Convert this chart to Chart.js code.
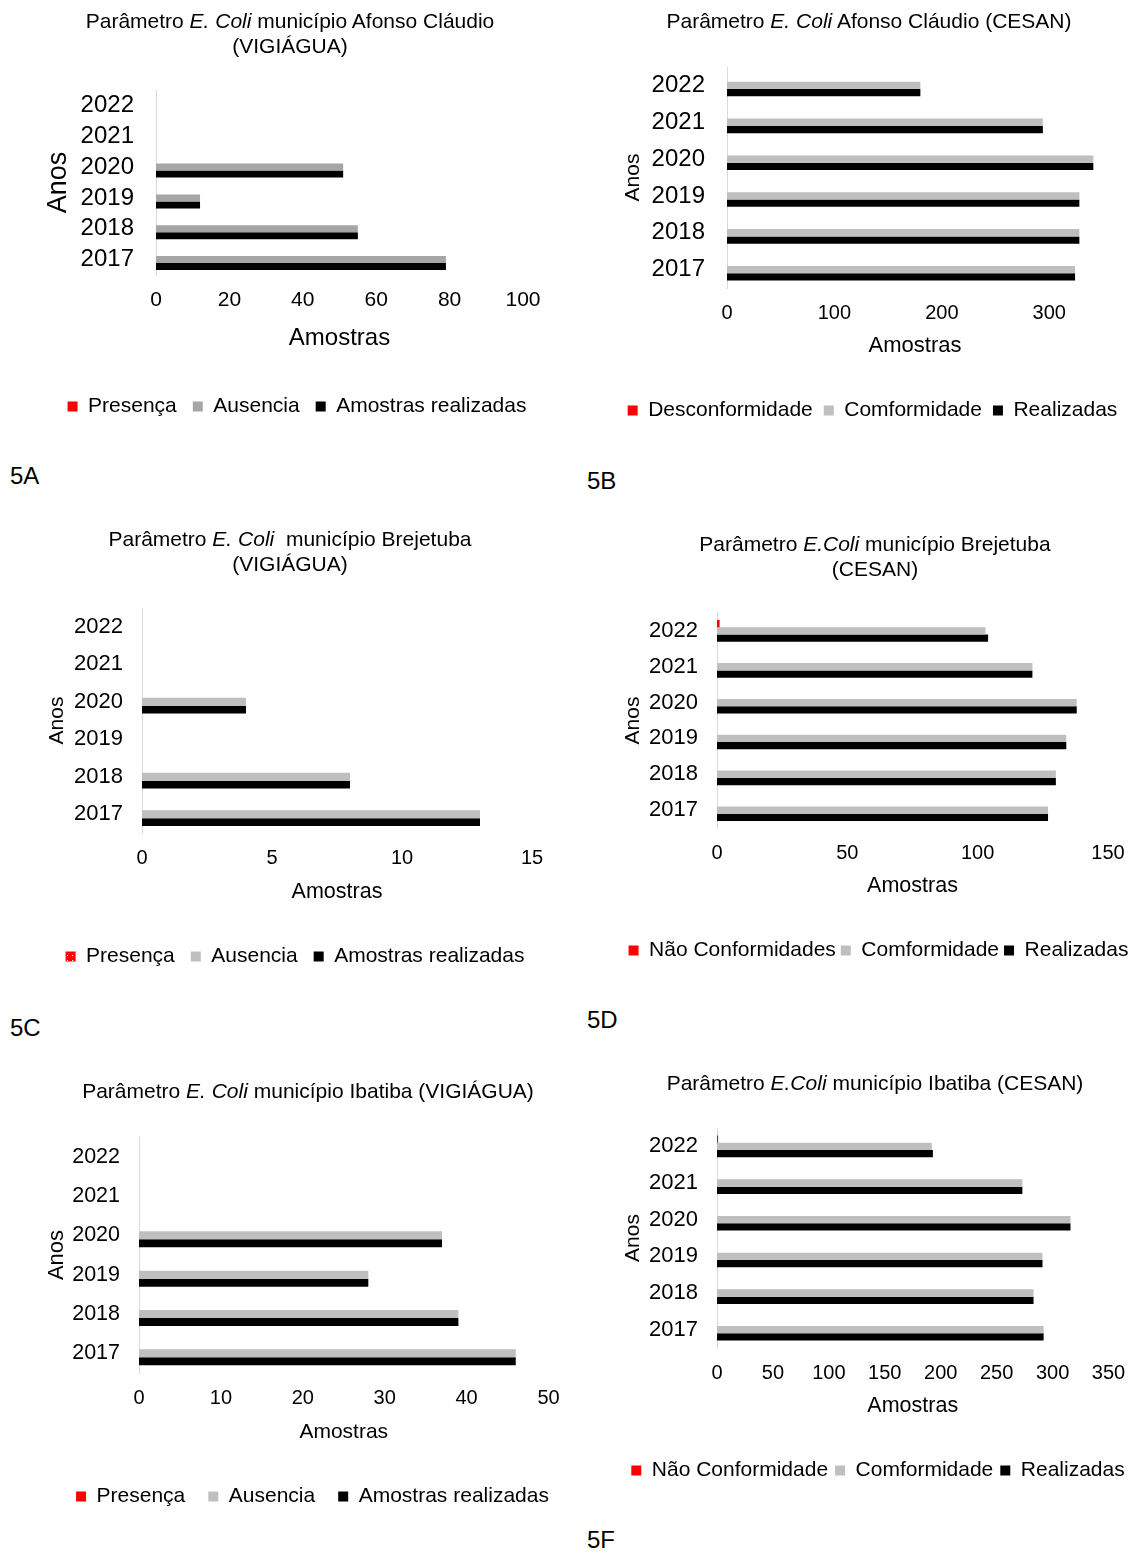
<!DOCTYPE html>
<html>
<head>
<meta charset="utf-8">
<script src="https://cdn.jsdelivr.net/npm/chart.js"></script>
<style>
html, body { margin: 0; padding: 0; background: #fff; overflow: hidden; }
body { width: 1140px; height: 1555px; position: relative; font-family: "Liberation Sans", Arial, sans-serif; color: #000; }
.titulo { position: absolute; width: 600px; text-align: center; font-size: 21px; line-height: 25px; white-space: pre; z-index: 2; }
.rotulo { position: absolute; font-size: 24px; line-height: 28px; }
canvas { position: absolute; z-index: 1; }
</style>
</head>
<body>

<div class="titulo" style="left:-10px; top:7.5px;">Parâmetro <i>E. Coli</i> município Afonso Cláudio<br>(VIGIÁGUA)</div>
<div class="titulo" style="left:569px; top:7.5px;">Parâmetro <i>E. Coli</i> Afonso Cláudio (CESAN)</div>
<div class="titulo" style="left:-10px; top:525.5px;">Parâmetro <i>E. Coli</i>  município Brejetuba<br>(VIGIÁGUA)</div>
<div class="titulo" style="left:575px; top:530.5px;">Parâmetro <i>E.Coli</i> município Brejetuba<br>(CESAN)</div>
<div class="titulo" style="left:8px; top:1077.5px;">Parâmetro <i>E. Coli</i> município Ibatiba (VIGIÁGUA)</div>
<div class="titulo" style="left:575px; top:1069.5px;">Parâmetro <i>E.Coli</i> município Ibatiba (CESAN)</div>

<div class="rotulo" style="left:10px; top:462px;">5A</div>
<div class="rotulo" style="left:587px; top:467px;">5B</div>
<div class="rotulo" style="left:10px; top:1014px;">5C</div>
<div class="rotulo" style="left:587px; top:1006px;">5D</div>
<div class="rotulo" style="left:587px; top:1526px;">5F</div>

<canvas id="g5a"></canvas>
<canvas id="g5b"></canvas>
<canvas id="g5c"></canvas>
<canvas id="g5d"></canvas>
<canvas id="g5e"></canvas>
<canvas id="g5f"></canvas>

<script>
// anos (de cima para baixo, como no grafico)
const anos = ['2022', '2021', '2020', '2019', '2018', '2017'];

// 5A - Afonso Claudio (VIGIAGUA)
const presencaAfonso = [0, 0, 0, 0, 0, 0];
const ausenciaAfonso = [0, 0, 51, 12, 55, 79];
const realizadasAfonso = [0, 0, 51, 12, 55, 79];

// 5B - Afonso Claudio (CESAN)
const desconfAfonsoCesan = [0, 0, 0, 0, 0, 0];
const conformAfonsoCesan = [180, 294, 341, 328, 328, 324];
const realizadasAfonsoCesan = [180, 294, 341, 328, 328, 324];

// 5C - Brejetuba (VIGIAGUA)
const presencaBrejetuba = [0, 0, 0, 0, 0, 0];
const ausenciaBrejetuba = [0, 0, 4, 0, 8, 13];
const realizadasBrejetuba = [0, 0, 4, 0, 8, 13];

// 5D - Brejetuba (CESAN)
const naoConfBrejetubaCesan = [1, 0, 0, 0, 0, 0];
const conformBrejetubaCesan = [103, 121, 138, 134, 130, 127];
const realizadasBrejetubaCesan = [104, 121, 138, 134, 130, 127];

// 5E - Ibatiba (VIGIAGUA)
const presencaIbatiba = [0, 0, 0, 0, 0, 0];
const ausenciaIbatiba = [0, 0, 37, 28, 39, 46];
const realizadasIbatiba = [0, 0, 37, 28, 39, 46];

// 5F - Ibatiba (CESAN)
const naoConfIbatibaCesan = [1, 0, 0, 0, 0, 0];
const conformIbatibaCesan = [192, 273, 316, 291, 283, 292];
const realizadasIbatibaCesan = [193, 273, 316, 291, 283, 292];

const legVigiagua = ['Presença', 'Ausencia', 'Amostras realizadas'];

Chart.defaults.font.family = '"Liberation Sans", Arial, sans-serif';
Chart.defaults.color = '#000';

// vermelho pontilhado da legenda do 5C
function vermelhoPontilhado() {
    var c = document.createElement('canvas');
    c.width = 5; c.height = 5;
    var x = c.getContext('2d');
    x.fillStyle = '#ff0000';
    x.fillRect(0, 0, 5, 5);
    x.fillStyle = '#ffffff';
    x.fillRect(2, 2, 1, 1);
    return x.createPattern(c, 'repeat');
}

const MARGEM_TOPO = 45;

// g = geometria da pagina (px), s = series, leg = nomes da legenda
function desenhar(id, g, s, leg) {
    var cv = document.getElementById(id);
    var topo = g.area[1] - MARGEM_TOPO;
    var largura = 2 * (g.legX - g.esq);
    var altura = Math.round(g.legY + 10 + g.fLeg / 2 - topo);
    cv.style.left = g.esq + 'px';
    cv.style.top = topo + 'px';
    cv.width = largura;
    cv.height = altura;

    var legTopo = altura - (g.fLeg + g.pLeg + 10);
    var altX = legTopo - (g.area[3] - topo);
    var padAmostras = legTopo - (g.amY - topo) - g.fAm * 1.2 / 2;
    var larguraY = g.area[0] - g.esq;
    var larguraDir = g.esq + largura - g.area[2];
    var padAnos = g.anosX - g.esq - g.fAnos * 1.2 / 2;

    new Chart(cv, {
        type: 'bar',
        data: {
            labels: anos,
            datasets: [
                { label: leg[0], data: s[0], backgroundColor: g.vermelho || '#ff0000', xAxisID: 'x', yAxisID: 'y' },
                { label: leg[1], data: s[1], backgroundColor: g.cinza, xAxisID: 'x', yAxisID: 'y' },
                { label: leg[2], data: s[2], backgroundColor: '#000000', xAxisID: 'x', yAxisID: 'y' }
            ]
        },
        options: {
            indexAxis: 'y',
            responsive: false,
            animation: false,
            devicePixelRatio: 1,
            barThickness: g.barra,
            borderWidth: 0,
            inflateAmount: 0,
            layout: { padding: { top: MARGEM_TOPO, left: 0, right: 0, bottom: 0 } },
            plugins: {
                legend: {
                    position: 'bottom',
                    labels: { boxWidth: 10, boxHeight: 10, padding: g.pLeg, color: '#000', font: { size: g.fLeg } }
                },
                tooltip: { enabled: false }
            },
            scales: {
                x: {
                    type: 'linear',
                    position: 'bottom',
                    min: 0,
                    max: g.max,
                    grid: { display: false, drawTicks: false },
                    border: { display: false },
                    ticks: {
                        stepSize: g.passo,
                        padding: 13,
                        color: '#000',
                        font: { size: g.fX },
                        callback: function(v) { return v % g.rotulo === 0 ? v : ''; }
                    },
                    title: { display: true, text: 'Amostras', color: '#000', font: { size: g.fAm }, padding: { top: 0, bottom: padAmostras } },
                    afterFit: function(sc) { sc.height = altX; }
                },
                y: {
                    type: 'category',
                    position: 'left',
                    grid: { display: false, drawTicks: false },
                    border: { display: true, color: '#d9d9d9', width: 1 },
                    ticks: { autoSkip: false, padding: g.pY, color: '#000', font: { size: g.fY } },
                    title: { display: true, text: 'Anos', color: '#000', font: { size: g.fAnos }, padding: { top: padAnos, bottom: 0 } },
                    afterFit: function(sc) { sc.width = larguraY; }
                },
                // eixo vazio so para reservar espaco a direita
                folga: {
                    type: 'linear',
                    position: 'right',
                    grid: { display: false, drawTicks: false },
                    border: { display: false },
                    ticks: { display: false },
                    afterFit: function(sc) { sc.width = larguraDir; }
                }
            }
        }
    });
}

desenhar('g5a', {
    esq: 30, legX: 297, legY: 406, area: [156, 90, 523, 275], amY: 338, anosX: 59,
    max: 100, passo: 20, rotulo: 20, barra: 7, cinza: '#a6a6a6',
    fX: 21, fY: 24, pY: 22, fAnos: 27, fAm: 24, fLeg: 21, pLeg: 16
}, [presencaAfonso, ausenciaAfonso, realizadasAfonso], legVigiagua);

desenhar('g5b', {
    esq: 615, legX: 872.5, legY: 410, area: [727, 67, 1103, 288], amY: 346, anosX: 633,
    max: 350, passo: 100, rotulo: 100, barra: 7.3, cinza: '#bfbfbf',
    fX: 20, fY: 24, pY: 22, fAnos: 21, fAm: 22, fLeg: 21, pLeg: 11
}, [desconfAfonsoCesan, conformAfonsoCesan, realizadasAfonsoCesan], ['Desconformidade', 'Comformidade', 'Realizadas']);

desenhar('g5c', {
    esq: 30, legX: 295, legY: 956, area: [142, 608, 532, 833], amY: 892, anosX: 57.5,
    max: 15, passo: 5, rotulo: 5, barra: 7.8, cinza: '#bfbfbf', vermelho: vermelhoPontilhado(),
    fX: 20, fY: 22, pY: 19, fAnos: 21, fAm: 21.5, fLeg: 21, pLeg: 16
}, [presencaBrejetuba, ausenciaBrejetuba, realizadasBrejetuba], legVigiagua);

desenhar('g5d', {
    esq: 615, legX: 878.5, legY: 950, area: [717, 613, 1108, 828], amY: 886, anosX: 633,
    max: 150, passo: 50, rotulo: 50, barra: 7.3, cinza: '#bfbfbf',
    fX: 20, fY: 22, pY: 19, fAnos: 21, fAm: 21.5, fLeg: 21, pLeg: 5
}, [naoConfBrejetubaCesan, conformBrejetubaCesan, realizadasBrejetubaCesan], ['Não Conformidades', 'Comformidade', 'Realizadas']);

desenhar('g5e', {
    esq: 30, legX: 312.5, legY: 1496, area: [139, 1137, 548.5, 1373], amY: 1432, anosX: 57,
    max: 50, passo: 10, rotulo: 10, barra: 8, cinza: '#bfbfbf',
    fX: 20, fY: 21.5, pY: 19, fAnos: 22, fAm: 21, fLeg: 21, pLeg: 23
}, [presencaIbatiba, ausenciaIbatiba, realizadasIbatiba], legVigiagua);

desenhar('g5f', {
    esq: 615, legX: 878, legY: 1470, area: [717, 1128, 1108.5, 1348], amY: 1406, anosX: 633,
    max: 350, passo: 50, rotulo: 50, barra: 7.3, cinza: '#bfbfbf',
    fX: 20, fY: 22, pY: 19, fAnos: 21, fAm: 21.5, fLeg: 21, pLeg: 7
}, [naoConfIbatibaCesan, conformIbatibaCesan, realizadasIbatibaCesan], ['Não Conformidade', 'Comformidade', 'Realizadas']);
</script>
</body>
</html>
